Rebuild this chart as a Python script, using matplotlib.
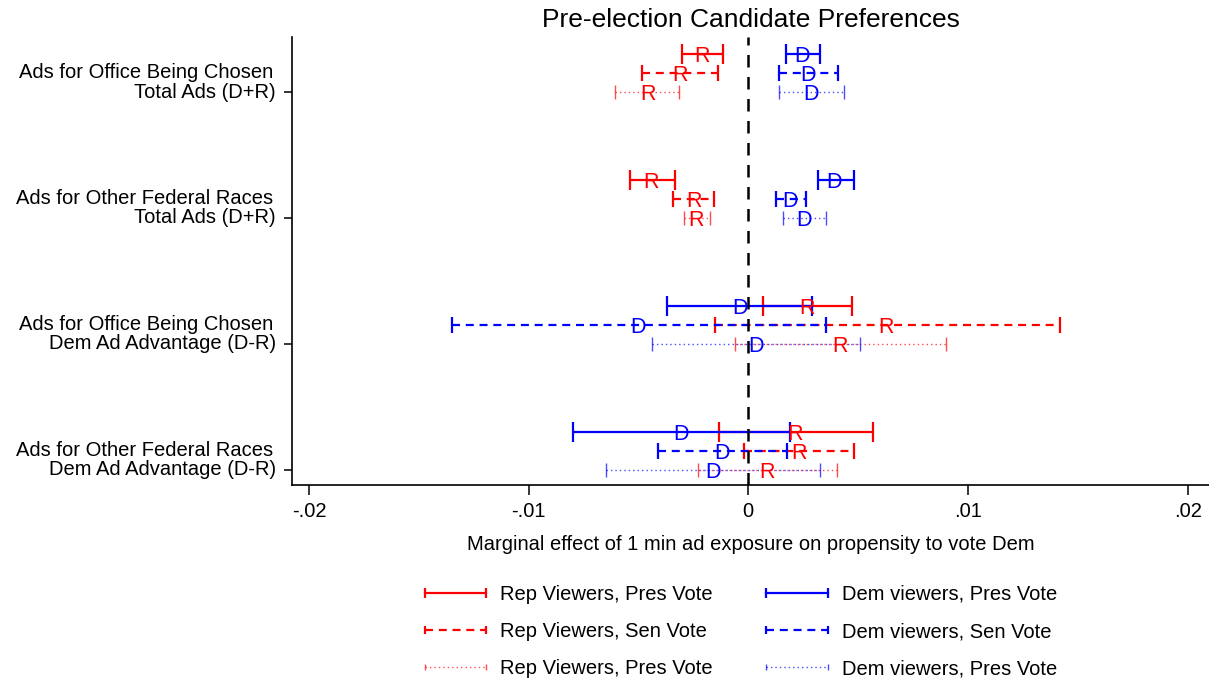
import matplotlib
matplotlib.use("Agg")
import matplotlib.pyplot as plt
from matplotlib.lines import Line2D
import numpy as np

plt.rcParams['font.family'] = ['Liberation Sans', 'DejaVu Sans']

# ---- data ----
group_top = ["Ads for Office Being Chosen", "Ads for Other Federal Races",
             "Ads for Office Being Chosen", "Ads for Other Federal Races"]
group_bottom = ["Total Ads (D+R)", "Total Ads (D+R)",
                "Dem Ad Advantage (D-R)", "Dem Ad Advantage (D-R)"]
group_pos = [1, 2, 3, 4]
x_ticks = [-0.02, -0.01, 0, 0.01, 0.02]
x_ticklabels = ["-.02", "-.01", "0", ".01", ".02"]

rep_pres_est = [-0.00211, -0.00443, 0.00269, 0.00214]
rep_pres_lo = [-0.00302, -0.00538, 0.00065, -0.00135]
rep_pres_hi = [-0.00117, -0.00333, 0.00472, 0.00568]

rep_sen_est = [-0.00313, -0.00249, 0.00629, 0.00229]
rep_sen_lo = [-0.00484, -0.00343, -0.00150, -0.00018]
rep_sen_hi = [-0.00138, -0.00155, 0.01421, 0.00480]

rep_pres2_est = [-0.00457, -0.00237, 0.00417, 0.00084]
rep_pres2_lo = [-0.00606, -0.00292, -0.00061, -0.00228]
rep_pres2_hi = [-0.00314, -0.00173, 0.00899, 0.00402]

dem_pres_est = [0.00245, 0.00392, -0.00037, -0.00307]
dem_pres_lo = [0.00172, 0.00316, -0.00370, -0.00799]
dem_pres_hi = [0.00325, 0.00480, 0.00290, 0.00188]

dem_sen_est = [0.00272, 0.00191, -0.00500, -0.00120]
dem_sen_lo = [0.00138, 0.00126, -0.01347, -0.00413]
dem_sen_hi = [0.00407, 0.00263, 0.00352, 0.00176]

dem_pres2_est = [0.00286, 0.00255, 0.00033, -0.00159]
dem_pres2_lo = [0.00141, 0.00156, -0.00440, -0.00647]
dem_pres2_hi = [0.00437, 0.00354, 0.00508, 0.00326]

legend_labels = ["Rep Viewers, Pres Vote", "Rep Viewers, Sen Vote", "Rep Viewers, Pres Vote",
                 "Dem viewers, Pres Vote", "Dem viewers, Sen Vote", "Dem viewers, Pres Vote"]

# ---- figure ----
fig = plt.figure(figsize=(12.09, 6.79), dpi=100)
ax = fig.add_axes([292/1209, 1-485/679, 1-292/1209, (485-37)/679])

RED = "#ff0000"
BLUE = "#0000ff"
row_off = [-0.30, -0.15, 0.0]

styles = [
    dict(ls="-", lw=1.6, alpha=1.0, capsize=7, capthick=1.6),
    dict(ls=(0, (3.6, 2.6)), lw=1.6, alpha=1.0, capsize=6, capthick=1.6),
    dict(ls=(0, (1, 2.2)), lw=1.0, alpha=0.7, capsize=5, capthick=1.0),
]

series = [
    (RED, "R", 0, rep_pres_est, rep_pres_lo, rep_pres_hi),
    (RED, "R", 1, rep_sen_est, rep_sen_lo, rep_sen_hi),
    (RED, "R", 2, rep_pres2_est, rep_pres2_lo, rep_pres2_hi),
    (BLUE, "D", 0, dem_pres_est, dem_pres_lo, dem_pres_hi),
    (BLUE, "D", 1, dem_sen_est, dem_sen_lo, dem_sen_hi),
    (BLUE, "D", 2, dem_pres2_est, dem_pres2_lo, dem_pres2_hi),
]

handles = []
for color, letter, k, est, lo, hi in series:
    st = styles[k]
    est = np.array(est)
    lo = np.array(lo)
    hi = np.array(hi)
    y = np.array(group_pos) + row_off[k]
    eb = ax.errorbar(est, y, xerr=[est - lo, hi - est], fmt="none", ecolor=color,
                     elinewidth=st["lw"], capsize=st["capsize"], capthick=st["capthick"],
                     alpha=st["alpha"], zorder=2 if color == RED else 3)
    eb[2][0].set_linestyle(st["ls"])
    for xi, yi in zip(est, y):
        ax.text(xi, yi, letter, color=color, fontsize=15.5, ha="center",
                va="center_baseline", zorder=6)
    handles.append(Line2D([0, 1], [0, 0], color=color, lw=st["lw"], ls=st["ls"],
                          marker="|", markersize=st["capsize"], markeredgewidth=st["capthick"],
                          alpha=st["alpha"]))

ax.axvline(0, color="black", lw=1.8, ls=(0, (5, 3.8)), zorder=5)

ax.set_xlim(-0.02077, 0.02097)
ax.set_ylim(4.12, 0.563)
ax.set_xticks(x_ticks)
ax.set_xticklabels(x_ticklabels, fontsize=14.5)
ax.set_yticks(group_pos)
ax.set_yticklabels(group_bottom, fontsize=14.5, ha="right", va="center")
for g, top in zip(group_pos, group_top):
    ax.annotate(top, xy=(0, g), xycoords=("axes fraction", "data"),
                xytext=(-13.7, 14.2), textcoords="offset points",
                ha="right", va="center", fontsize=14.5, annotation_clip=False)

for s in ["top", "right"]:
    ax.spines[s].set_visible(False)
for s in ["left", "bottom"]:
    ax.spines[s].set_linewidth(1.2)
ax.tick_params(axis="x", length=7, width=1.1, pad=5)
ax.tick_params(axis="y", length=6, width=1.1, pad=5.5)

ax.set_xlabel("Marginal effect of 1 min ad exposure on propensity to vote Dem", fontsize=14.5,
              labelpad=10)
ax.set_title("Pre-election Candidate Preferences", fontsize=19, pad=7)

fig.legend(handles, legend_labels, loc="center", bbox_to_anchor=(738/1209, 1-631.5/679),
           ncol=2, frameon=False, fontsize=14.5, numpoints=2, handlelength=3.65,
           handletextpad=0.4, columnspacing=2.35, labelspacing=0.9)

fig.savefig("out.png", dpi=100)
